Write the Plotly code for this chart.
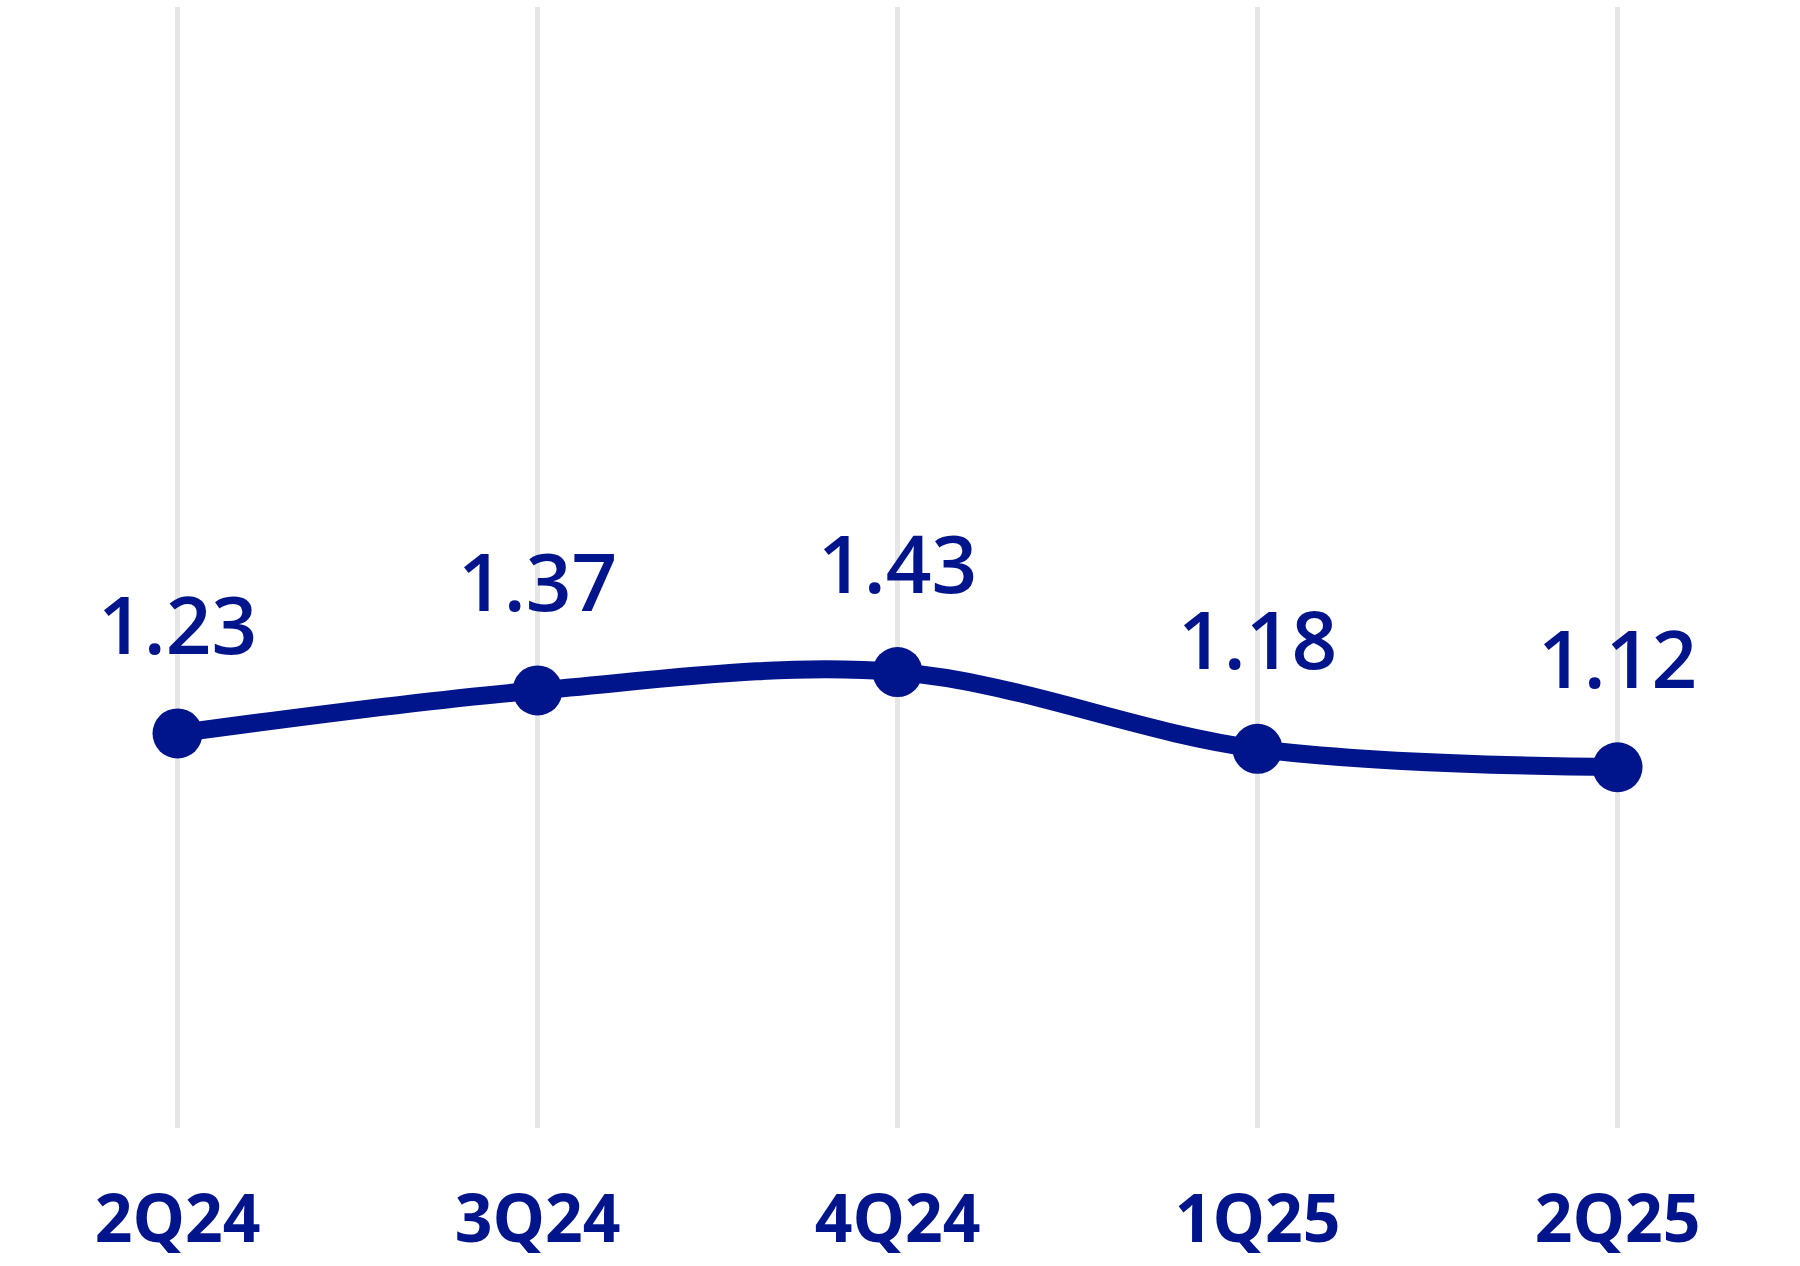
import plotly.graph_objects as go

categories = ["2Q24", "3Q24", "4Q24", "1Q25", "2Q25"]
values = [1.23, 1.37, 1.43, 1.18, 1.12]
labels = ["1.23", "1.37", "1.43", "1.18", "1.12"]

NAVY = "#00148C"
GRID = "#E6E6E6"

fig = go.Figure()
fig.add_trace(go.Scatter(
    x=categories, y=values, mode="lines+markers",
    line=dict(color=NAVY, width=18, shape="spline", smoothing=1.0),
    marker=dict(color=NAVY, size=50),
    hoverinfo="skip", showlegend=False,
))

for c, v, t in zip(categories, values, labels):
    fig.add_annotation(
        x=c, y=v, text=t, showarrow=False,
        yanchor="middle", xanchor="center", yshift=111,
        font=dict(family="Open Sans", size=80, color=NAVY, weight=600),
    )

fig.update_layout(
    width=1800, height=1266,
    margin=dict(l=0, r=0, t=7, b=138),
    paper_bgcolor="white", plot_bgcolor="white",
    xaxis=dict(
        type="category", range=[-0.4931, 4.5069],
        showgrid=True, gridcolor=GRID, gridwidth=5,
        showline=False, zeroline=False, ticks="",
        tickfont=dict(family="Open Sans", size=66, color=NAVY, weight="bold"),
        ticklabelstandoff=47,
    ),
    yaxis=dict(
        range=[-0.055, 3.596], visible=False, showgrid=False, zeroline=False,
    ),
)

fig.write_html(
    "out.html",
    config={"displayModeBar": False},
    post_script="document.body.style.margin='0';document.body.style.overflow='hidden';",
)
